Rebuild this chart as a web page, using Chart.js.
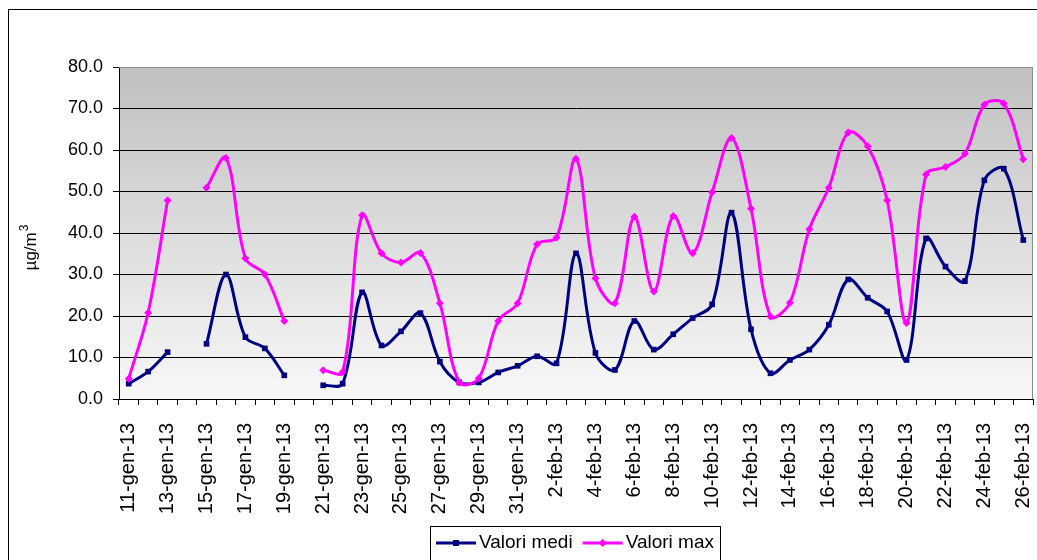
<!DOCTYPE html>
<html>
<head>
<meta charset="utf-8">
<title>PM10 gen-feb 2013</title>
<script src="https://cdn.jsdelivr.net/npm/chart.js@4.4.1/dist/chart.umd.min.js"></script>
<style>
  html, body { margin: 0; padding: 0; background: #ffffff; }
  #wrap { width: 1037px; height: 560px; position: relative; }
</style>
</head>
<body>
<div id="wrap"><canvas id="pmChart"></canvas></div>
<script>
// Daily readings, 11 Jan - 26 Feb 2013 (null = no data)
const dayLabels = [
    '11-gen-13', '12-gen-13', '13-gen-13', '14-gen-13', '15-gen-13', '16-gen-13', '17-gen-13',
    '18-gen-13', '19-gen-13', '20-gen-13', '21-gen-13', '22-gen-13', '23-gen-13', '24-gen-13',
    '25-gen-13', '26-gen-13', '27-gen-13', '28-gen-13', '29-gen-13', '30-gen-13', '31-gen-13',
    '1-feb-13', '2-feb-13', '3-feb-13', '4-feb-13', '5-feb-13', '6-feb-13', '7-feb-13',
    '8-feb-13', '9-feb-13', '10-feb-13', '11-feb-13', '12-feb-13', '13-feb-13', '14-feb-13',
    '15-feb-13', '16-feb-13', '17-feb-13', '18-feb-13', '19-feb-13', '20-feb-13', '21-feb-13',
    '22-feb-13', '23-feb-13', '24-feb-13', '25-feb-13', '26-feb-13'
];

const valoriMedi = [
    3.7, 6.6, 11.3, null, 13.3, 30.0, 14.9, 12.2, 5.7, null,
    3.3, 3.7, 25.7, 12.9, 16.3, 20.7, 9.0, 4.0, 4.0, 6.4,
    8.0, 10.3, 8.6, 35.1, 11.1, 7.0, 18.8, 11.9, 15.6, 19.5,
    22.8, 44.9, 16.8, 6.2, 9.4, 11.9, 17.9, 28.8, 24.4, 21.1,
    9.4, 38.7, 31.9, 28.4, 52.7, 55.5, 38.3
];

const valoriMax = [
    4.9, 20.8, 47.9, null, 50.9, 58.1, 33.9, 30.0, 18.8, null,
    6.9, 6.5, 44.3, 35.1, 32.9, 35.2, 23.1, 4.0, 5.0, 18.8,
    23.1, 37.3, 38.9, 57.9, 29.1, 23.1, 43.9, 25.9, 44.1, 35.1,
    49.8, 62.9, 45.9, 19.9, 23.2, 40.9, 50.9, 64.2, 60.9, 47.9,
    18.3, 54.1, 55.9, 59.1, 70.9, 71.2, 57.8
];

const seriesNames = ['Valori medi', 'Valori max'];
const seriesColors = ['#000080', '#ff00ff'];

const yMin = 0;
const yMax = 80;
const yStep = 10;

const FONT = "'Liberation Sans', Arial, sans-serif";
Chart.defaults.font.family = FONT;
Chart.defaults.color = '#000000';

// Grey-to-white fill behind the plot area
const plotBackground = {
    id: 'plotBackground',
    beforeDraw(chart) {
        const { ctx, chartArea: a } = chart;
        const grad = ctx.createLinearGradient(0, a.top, 0, a.bottom);
        grad.addColorStop(0, '#c0c0c0');
        grad.addColorStop(1, '#f8f8f8');
        ctx.save();
        ctx.fillStyle = grad;
        ctx.fillRect(a.left, a.top, a.right - a.left, a.bottom - a.top);
        ctx.restore();
    },
    afterDatasetsDraw(chart) {
        const { ctx, chartArea: a } = chart;
        ctx.save();
        ctx.strokeStyle = '#8c8c8c';
        ctx.lineWidth = 1;
        ctx.beginPath();
        ctx.moveTo(a.left, Math.round(a.top) + 0.5);
        ctx.lineTo(Math.round(a.right) - 0.5, Math.round(a.top) + 0.5);
        ctx.lineTo(Math.round(a.right) - 0.5, a.bottom);
        ctx.stroke();
        ctx.restore();
    }
};

// Outer frame, y axis unit and the boxed legend
const frameAndLegend = {
    id: 'frameAndLegend',
    afterDraw(chart) {
        const ctx = chart.ctx;
        ctx.save();

        ctx.strokeStyle = '#000000';
        ctx.lineWidth = 1;
        ctx.strokeRect(8.5, 9.5, 1200, 1000);

        // µg/m³ with a raised 3
        ctx.translate(36, 248);
        ctx.rotate(-Math.PI / 2);
        ctx.fillStyle = '#000000';
        ctx.textBaseline = 'alphabetic';
        ctx.font = '17px ' + FONT;
        const unit = 'µg/m';
        const w1 = ctx.measureText(unit).width;
        ctx.font = '12px ' + FONT;
        const w2 = ctx.measureText('3').width;
        const start = -(w1 + w2) / 2;
        ctx.font = '17px ' + FONT;
        ctx.fillText(unit, start, 0);
        ctx.font = '12px ' + FONT;
        ctx.fillText('3', start + w1 + 1, -8);
        ctx.setTransform(1, 0, 0, 1, 0, 0);

        // legend
        ctx.strokeStyle = '#000000';
        ctx.lineWidth = 1;
        ctx.strokeRect(430.5, 526.5, 290, 60);
        ctx.font = '19px ' + FONT;
        ctx.textBaseline = 'middle';
        let x = 436;
        const y = 543;
        chart.data.datasets.forEach((ds) => {
            ctx.strokeStyle = ds.borderColor;
            ctx.fillStyle = ds.borderColor;
            ctx.lineWidth = 3;
            ctx.beginPath();
            ctx.moveTo(x, y);
            ctx.lineTo(x + 40, y);
            ctx.stroke();
            const mx = x + 20;
            if (ds.pointStyle === 'rect') {
                ctx.fillRect(mx - 3, y - 3, 6, 6);
            } else {
                ctx.beginPath();
                ctx.moveTo(mx, y - 4);
                ctx.lineTo(mx + 4, y);
                ctx.lineTo(mx, y + 4);
                ctx.lineTo(mx - 4, y);
                ctx.closePath();
                ctx.fill();
            }
            ctx.fillStyle = '#000000';
            ctx.fillText(ds.label, x + 43, y);
            x += 43 + ctx.measureText(ds.label).width + 10;
        });
        ctx.restore();
    }
};

new Chart(document.getElementById('pmChart'), {
    type: 'line',
    data: {
        labels: dayLabels,
        datasets: [
            {
                label: seriesNames[0],
                data: valoriMedi,
                borderColor: seriesColors[0],
                backgroundColor: seriesColors[0],
                borderWidth: 3,
                pointStyle: 'rect',
                pointRadius: 4,
                pointBorderWidth: 0,
                tension: 0.35,
                spanGaps: false,
                order: 2
            },
            {
                label: seriesNames[1],
                data: valoriMax,
                borderColor: seriesColors[1],
                backgroundColor: seriesColors[1],
                borderWidth: 3,
                pointStyle: 'rectRot',
                pointRadius: 4,
                pointBorderWidth: 0,
                tension: 0.35,
                spanGaps: false,
                order: 1
            }
        ]
    },
    options: {
        responsive: true,
        maintainAspectRatio: false,
        animation: false,
        layout: {
            padding: { top: 67, left: 0, right: 2, bottom: 0 }
        },
        scales: {
            x: {
                type: 'category',
                offset: true,
                grid: {
                    offset: true,
                    drawOnChartArea: false,
                    drawTicks: true,
                    tickLength: 6,
                    color: '#000000'
                },
                border: { color: '#000000', width: 1 },
                ticks: {
                    autoSkip: false,
                    maxRotation: 90,
                    minRotation: 90,
                    padding: 18,
                    font: { size: 20 },
                    color: '#000000',
                    callback: function(value, index) {
                        return index % 2 === 0 ? this.getLabelForValue(value) : '';
                    }
                },
                afterFit(scale) {
                    // keep the plot running to the right edge
                    scale.height = 161;
                    scale.paddingLeft = 0;
                    scale.paddingRight = 0;
                }
            },
            y: {
                min: yMin,
                max: yMax,
                grid: {
                    color: (c) => (c.tick && c.tick.value === yMax ? '#8c8c8c' : '#000000'),
                    tickColor: '#000000',
                    tickLength: 6
                },
                border: { color: '#000000', width: 1 },
                ticks: {
                    stepSize: yStep,
                    padding: 10,
                    font: { size: 18 },
                    color: '#000000',
                    callback: (v) => v.toFixed(1)
                },
                afterFit(scale) {
                    scale.width = 119;
                    scale.paddingTop = 0;
                    scale.paddingBottom = 0;
                }
            }
        },
        plugins: {
            legend: { display: false },
            tooltip: { enabled: false }
        }
    },
    plugins: [plotBackground, frameAndLegend]
});
</script>
</body>
</html>
